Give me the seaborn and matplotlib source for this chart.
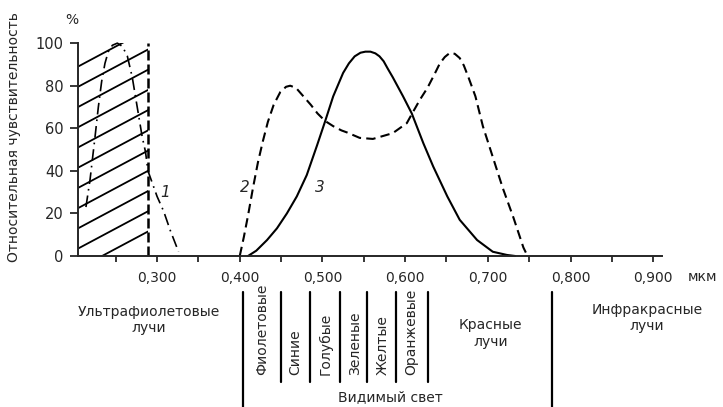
import matplotlib.pyplot as plt
import seaborn as sns
from matplotlib.patches import Rectangle

# curve 1 (dash-dot), UV region
uv_x = [0.214, 0.219, 0.225, 0.229, 0.233, 0.237, 0.241, 0.246, 0.252, 0.258, 0.264,
        0.270, 0.276, 0.282, 0.286, 0.289, 0.300, 0.308, 0.316, 0.326]
uv_y = [23, 36, 56, 70, 82, 90.5, 96, 99, 100, 98.5, 94, 84, 70, 56, 49, 40, 28, 21, 12, 2]

# curve 2 (dashed)
c2_x = [0.400, 0.405, 0.410, 0.416, 0.422, 0.428, 0.434, 0.441, 0.449, 0.456, 0.461,
        0.468, 0.477, 0.486, 0.494, 0.503, 0.513, 0.523, 0.530, 0.545, 0.561, 0.585,
        0.602, 0.610, 0.618, 0.627, 0.635, 0.642, 0.648, 0.654, 0.660, 0.666, 0.671,
        0.677, 0.685, 0.694, 0.706, 0.718, 0.731, 0.743, 0.748]
c2_y = [0, 9, 19, 32, 44, 54, 63, 71, 77, 79.5, 80, 79, 75, 71, 67, 63.5, 61, 59, 58,
        55.5, 55, 57.7, 62.4, 68, 73.5, 79, 85, 90.5, 93.5, 95.4, 95, 93, 89.5,
        83.5, 75, 61, 46.5, 32, 18, 4, 0]

# curve 3 (solid)
c3_x = [0.410, 0.420, 0.433, 0.445, 0.457, 0.469, 0.481, 0.4935, 0.503, 0.513, 0.525,
        0.532, 0.539, 0.546, 0.552, 0.558, 0.564, 0.569, 0.574, 0.579, 0.585, 0.5975,
        0.608, 0.622, 0.634, 0.651, 0.666, 0.687, 0.706, 0.723, 0.733]
c3_y = [0, 2.5, 7.5, 13, 20, 28, 38, 52, 63, 75, 86, 90.5, 93.8, 95.5, 96, 96, 95.2,
        93.8, 91.5, 88, 84, 75, 67, 53, 42, 28, 17, 7.5, 2, 0.5, 0]

x_ticks = [0.25, 0.30, 0.35, 0.40, 0.45, 0.50, 0.55, 0.60, 0.65, 0.70, 0.75, 0.80, 0.85, 0.90]
x_labels = ["", "0,300", "", "0,400", "", "0,500", "", "0,600", "", "0,700", "", "0,800", "", "0,900"]
y_ticks = [0, 20, 40, 60, 80, 100]

uv_edge = 0.289
hatch_right = [11.5, 21, 30.5, 40, 49.5, 59, 68.5, 78, 87.5, 97, 106.5]
hatch_rise = 17.5

band_major = [0.404, 0.778]
band_minor = [0.450, 0.485, 0.521, 0.554, 0.589, 0.628]
colour_names = ["Фиолетовые", "Синие", "Голубые", "Зеленые", "Желтые", "Оранжевые"]
colour_pos = [0.427, 0.467, 0.504, 0.539, 0.573, 0.608]

sns.set_style("ticks")
plt.rcParams["font.family"] = ["DejaVu Sans"]
plt.rcParams["font.size"] = 10

fig = plt.figure(figsize=(7.23, 4.07), dpi=100)
ax = fig.add_axes([0.108, 0.371, 0.8076, 0.523])
x0, x1 = 0.2045, 0.9106
ax.set_xlim(x0, x1)
ax.set_ylim(0, 100)

# hatched UV zone
clip = Rectangle((x0, 0), uv_edge - x0, 100, transform=ax.transData)
for c in hatch_right:
    ln, = ax.plot([x0, uv_edge], [c - hatch_rise, c], color="k", lw=1.3)
    ln.set_clip_path(clip)
ax.plot([uv_edge, uv_edge], [0, 100], color="k", lw=1.8, linestyle=(0, (4, 1.6)),
        clip_on=False)

sns.lineplot(x=uv_x, y=uv_y, ax=ax, color="k", lw=1.2, sort=False, estimator=None,
             linestyle=(0, (7, 3, 1, 3)), clip_on=False)
sns.lineplot(x=c2_x, y=c2_y, ax=ax, color="k", lw=1.5, sort=False, estimator=None,
             linestyle=(0, (4.5, 2.5)), clip_on=False)
sns.lineplot(x=c3_x, y=c3_y, ax=ax, color="k", lw=1.5, sort=False, estimator=None,
             clip_on=False)

ax.text(0.3097, 30, "1", fontsize=11, style="italic", ha="center", va="center")
ax.text(0.4064, 32, "2", fontsize=11, style="italic", ha="center", va="center")
ax.text(0.497, 32.4, "3", fontsize=11, style="italic", ha="center", va="center")

sns.despine(ax=ax)
for s in ["left", "bottom"]:
    ax.spines[s].set_linewidth(1.4)
ax.set_xticks(x_ticks)
ax.set_xticklabels(x_labels)
ax.set_yticks(y_ticks)
ax.tick_params(axis="x", direction="out", length=4, width=1.3, pad=7, labelsize=10)
ax.tick_params(axis="y", direction="out", length=5.5, width=1.3, pad=5, labelsize=10.5)
ax.set_xlabel("")
ax.set_ylabel("")
ax.text(0.942, -9.9, "мкм", ha="left", va="center", fontsize=10, clip_on=False)

fig.text(14 / 723, 0.663, "Относительная чувствительность", rotation=90,
         ha="center", va="center", fontsize=10)
fig.text(72 / 723, 1 - 20 / 407, "%", ha="center", va="center", fontsize=10)

# spectrum bands under the axis
for bx in band_major:
    ax.plot([bx, bx], [-16.9, -71], color="k", lw=1.6, clip_on=False)
for bx in band_minor:
    ax.plot([bx, bx], [-16.9, -59.2], color="k", lw=1.6, clip_on=False)
for name, px in zip(colour_names, colour_pos):
    ax.text(px, -55.9, name, rotation=90, ha="center", va="bottom", fontsize=10,
            clip_on=False)
ax.text(0.290, -30, "Ультрафиолетовые\nлучи", ha="center", va="center", fontsize=10,
        clip_on=False)
ax.text(0.703, -36.4, "Красные\nлучи", ha="center", va="center", fontsize=10,
        clip_on=False)
ax.text(0.8925, -29, "Инфракрасные\nлучи", ha="center", va="center", fontsize=10,
        clip_on=False)
ax.text(0.582, -66.2, "Видимый свет", ha="center", va="center", fontsize=10,
        clip_on=False)

fig.savefig("out.png", dpi=100)
